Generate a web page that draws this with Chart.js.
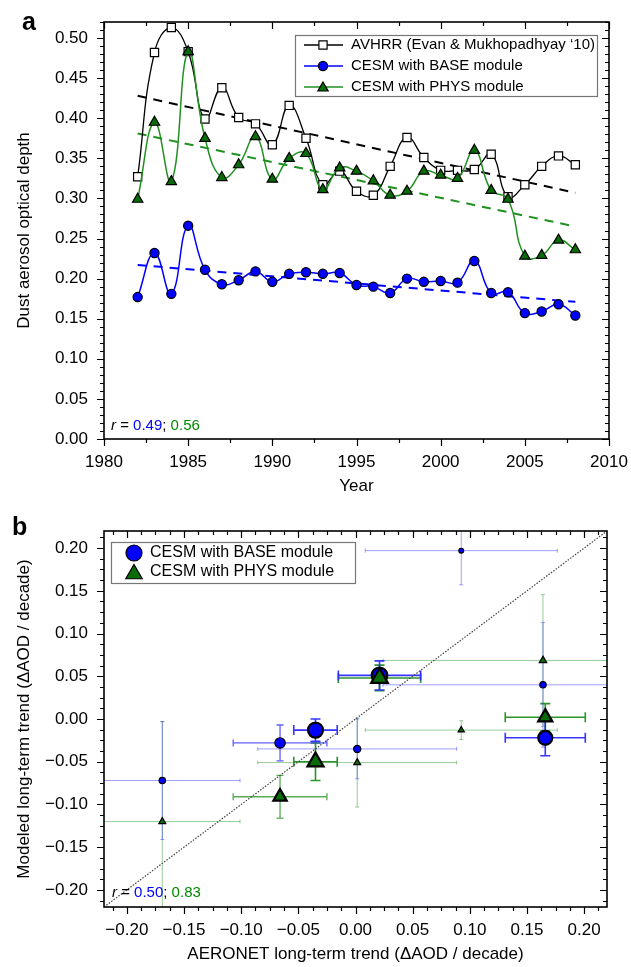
<!DOCTYPE html>
<html>
<head>
<meta charset="utf-8">
<script src="https://cdn.jsdelivr.net/npm/chart.js@4.4.0/dist/chart.umd.min.js"></script>
<style>
  html, body { margin: 0; padding: 0; background: #fff; }
  #wrap { position: relative; width: 631px; height: 967px; }
  canvas { position: absolute; left: 0; }
  .panel { position: absolute; font: bold 25px 'Liberation Sans', Arial, sans-serif; line-height: 1; }
</style>
</head>
<body>
<div id="wrap">
  <canvas id="seriesChart" width="631" height="500" style="top:0"></canvas>
  <canvas id="trendChart" width="631" height="467" style="top:500px"></canvas>
  <div class="panel" style="left:22px; top:9px">a</div>
  <div class="panel" style="left:12px; top:514px">b</div>
</div>
<script>
// panel a: yearly dust AOD
const years = [1982, 1983, 1984, 1985, 1986, 1987, 1988, 1989, 1990, 1991, 1992, 1993, 1994, 1995,
  1996, 1997, 1998, 1999, 2000, 2001, 2002, 2003, 2004, 2005, 2006, 2007, 2008];
const avhrrAod = [0.327, 0.482, 0.513, 0.483, 0.399, 0.438, 0.401, 0.393, 0.367, 0.416, 0.375, 0.317, 0.334, 0.309,
  0.304, 0.340, 0.376, 0.351, 0.335, 0.335, 0.336, 0.355, 0.302, 0.317, 0.340, 0.353, 0.342];
const baseAod = [0.177, 0.232, 0.181, 0.266, 0.211, 0.193, 0.198, 0.209, 0.196, 0.206, 0.208, 0.206, 0.207, 0.192,
  0.190, 0.182, 0.200, 0.196, 0.197, 0.195, 0.222, 0.182, 0.183, 0.157, 0.159, 0.168, 0.154];
const physAod = [0.299, 0.395, 0.321, 0.483, 0.375, 0.326, 0.342, 0.377, 0.324, 0.350, 0.356, 0.311, 0.338, 0.334,
  0.322, 0.304, 0.309, 0.334, 0.329, 0.325, 0.360, 0.310, 0.299, 0.228, 0.229, 0.248, 0.236];
const trendYears = [1982, 2008];
const avhrrFit = [0.428, 0.307];
const baseFit = [0.217, 0.171];
const physFit = [0.381, 0.265];
const corrA = ['0.49', '0.56'];

// panel b: long-term trends at AERONET sites
const obsTrend = [-0.169, -0.066, -0.035, 0.0015, 0.021, 0.0925, 0.164, 0.166];
const obsTrendErr = [0.068, 0.041, 0.019, 0.087, 0.036, 0.084, 0.140, 0.035];
const baseTrend = [-0.072, -0.028, -0.013, -0.035, 0.051, 0.197, 0.040, -0.022];
const baseTrendErr = [0.069, 0.021, 0.013, 0.035, 0.017, 0.040, 0.073, 0.021];
const physTrend = [-0.120, -0.091, -0.050, -0.051, 0.048, -0.013, 0.0685, 0.002];
const physTrendErr = [0.117, 0.025, 0.022, 0.052, 0.015, 0.011, 0.077, 0.016];
const oneToOne = [-0.22, 0.22];
const corrB = ['0.50', '0.83'];

// marker sizes per site (styling only)
const circleRadius = [3.2, 5.2, 7.5, 3.6, 7.8, 2.4, 3.2, 7];
const triangleRadius = [4, 7.7, 9.3, 4, 9.6, 3.6, 4.3, 8.2];

const FONT = "'Liberation Sans', Arial, Helvetica, sans-serif";
const BLUE = '#0000ff';
const GREEN_LINE = '#209020';
const GREEN_FILL = '#086c08';
const GREEN_TEXT = '#008a00';

const pts = (xs, ys) => xs.map((v, i) => ({x: v, y: ys[i]}));
const fmt = v => (Math.abs(v) < 1e-9 ? '0.00' : v.toFixed(2).replace('-', '\u2212'));

// frame with ticks on all four sides: outside on left/bottom, inside on top/right
const boxTicks = {
  id: 'boxTicks',
  afterDraw(chart, args, opts) {
    const {ctx, chartArea: a, scales: {x, y}} = chart;
    ctx.save();
    ctx.strokeStyle = '#000';
    ctx.lineWidth = 1.2;
    ctx.beginPath();
    const range = (min, max, step) => {
      const ks = [];
      for (let k = Math.ceil(min / step - 1e-9); k * step <= max + 1e-9; k++) ks.push(k);
      return ks;
    };
    range(x.min, x.max, opts.xStep).forEach(k => {
      const px = Math.round(x.getPixelForValue(k * opts.xStep)) + 0.5;
      const len = k % opts.xMajor === 0 ? 7 : 4;
      ctx.moveTo(px, a.bottom); ctx.lineTo(px, a.bottom + len);
      ctx.moveTo(px, a.top); ctx.lineTo(px, a.top + len);
    });
    range(y.min, y.max, opts.yStep).forEach(k => {
      const py = Math.round(y.getPixelForValue(k * opts.yStep)) + 0.5;
      const len = k % opts.yMajor === 0 ? 7 : 4;
      ctx.moveTo(a.left, py); ctx.lineTo(a.left - len, py);
      ctx.moveTo(a.right, py); ctx.lineTo(a.right - len, py);
    });
    ctx.stroke();
    ctx.lineWidth = 1.6;
    ctx.strokeRect(a.left, a.top, a.right - a.left, a.bottom - a.top);
    ctx.restore();
  }
};

// "r = a; b" note in the lower left corner
function drawCorr(ctx, x, y, vals) {
  const parts = [
    ['italic 15px ' + FONT, '#000', 'r'],
    ['15px ' + FONT, '#000', ' = '],
    ['15px ' + FONT, BLUE, vals[0]],
    ['15px ' + FONT, '#000', '; '],
    ['15px ' + FONT, GREEN_TEXT, vals[1]]
  ];
  ctx.textBaseline = 'middle';
  ctx.textAlign = 'left';
  parts.forEach(([font, color, text]) => {
    ctx.font = font;
    ctx.fillStyle = color;
    ctx.fillText(text, x, y);
    x += ctx.measureText(text).width;
  });
}

const legendA = {
  id: 'legendA',
  afterDraw(chart) {
    const {ctx, chartArea: a} = chart;
    ctx.save();
    ctx.fillStyle = '#fff';
    ctx.fillRect(295, 35, 303, 62);
    ctx.strokeStyle = '#777';
    ctx.lineWidth = 1.2;
    ctx.strokeRect(295.5, 35.5, 302, 61);
    const rows = [
      ['AVHRR (Evan & Mukhopadhyay \u201810)', '#000', '#fff', 'rect', 5.8],
      ['CESM with BASE module', BLUE, BLUE, 'circle', 4.6],
      ['CESM with PHYS module', GREEN_LINE, GREEN_FILL, 'triangle', 6]
    ];
    rows.forEach(([label, line, fill, style, r], i) => {
      const yy = 45 + i * 21;
      ctx.strokeStyle = line;
      ctx.lineWidth = 1.3;
      ctx.beginPath(); ctx.moveTo(304, yy); ctx.lineTo(343, yy); ctx.stroke();
      ctx.fillStyle = fill;
      ctx.strokeStyle = '#000';
      ctx.lineWidth = 1.2;
      Chart.helpers.drawPoint(ctx, {pointStyle: style, radius: r, borderWidth: 1.2, rotation: 0}, 323, yy + (style === 'triangle' ? 1 : 0));
      ctx.fillStyle = '#000';
      ctx.font = '15px ' + FONT;
      ctx.textBaseline = 'middle';
      ctx.fillText(label, 351, yy);
    });
    drawCorr(ctx, a.left + 7, 426, corrA);
    ctx.restore();
  }
};

const legendB = {
  id: 'legendB',
  afterDraw(chart) {
    const {ctx, chartArea: a} = chart;
    ctx.save();
    ctx.fillStyle = '#fff';
    ctx.fillRect(111, 42, 245, 41);
    ctx.strokeStyle = '#777';
    ctx.lineWidth = 1.2;
    ctx.strokeRect(111.5, 42.5, 244, 41);
    const rows = [
      ['CESM with BASE module', BLUE, 'circle', 8],
      ['CESM with PHYS module', GREEN_FILL, 'triangle', 9.5]
    ];
    rows.forEach(([label, fill, style, r], i) => {
      const yy = 53 + i * 19;
      ctx.fillStyle = fill;
      ctx.strokeStyle = '#000';
      Chart.helpers.drawPoint(ctx, {pointStyle: style, radius: r, borderWidth: 2.2, rotation: 0}, 134, yy + (style === 'triangle' ? 2 : 0));
      ctx.fillStyle = '#000';
      ctx.font = '16px ' + FONT;
      ctx.textBaseline = 'middle';
      ctx.fillText(label, 150, yy);
    });
    drawCorr(ctx, a.left + 8, 393, corrB);
    ctx.restore();
  }
};

const errorBars = {
  id: 'errorBars',
  beforeDatasetsDraw(chart) {
    const {ctx, chartArea: a, scales: {x, y}} = chart;
    ctx.save();
    ctx.beginPath();
    ctx.rect(a.left, a.top, a.right - a.left, a.bottom - a.top);
    ctx.clip();
    chart.data.datasets.forEach(ds => {
      if (!ds.xErr) return;
      ds.data.forEach((p, i) => {
        const w = ds.siteWeight[i];
        const big = w >= 6, mid = w >= 4.5;
        ctx.strokeStyle = ds.errColor;
        ctx.globalAlpha = big ? 0.95 : mid ? 0.75 : 0.45;
        ctx.lineWidth = big ? 1.6 : mid ? 1.3 : 1;
        const cap = big ? 5 : mid ? 3.5 : 2;
        const px = x.getPixelForValue(p.x), py = y.getPixelForValue(p.y);
        const x0 = x.getPixelForValue(p.x - ds.xErr[i]), x1 = x.getPixelForValue(p.x + ds.xErr[i]);
        const y0 = y.getPixelForValue(p.y - ds.yErr[i]), y1 = y.getPixelForValue(p.y + ds.yErr[i]);
        ctx.beginPath();
        ctx.moveTo(x0, py); ctx.lineTo(x1, py);
        ctx.moveTo(px, y0); ctx.lineTo(px, y1);
        ctx.moveTo(x0, py - cap); ctx.lineTo(x0, py + cap);
        ctx.moveTo(x1, py - cap); ctx.lineTo(x1, py + cap);
        ctx.moveTo(px - cap, y0); ctx.lineTo(px + cap, y0);
        ctx.moveTo(px - cap, y1); ctx.lineTo(px + cap, y1);
        ctx.stroke();
      });
    });
    ctx.restore();
  }
};

const tickFont = {family: FONT, size: 17};
const titleFont = {family: FONT, size: 17};
// fixed axis boxes so both panels share the same plot frame
const fitX = s => { s.height = 58; s.paddingLeft = 0; s.paddingRight = 0; };
const fitY = s => { s.width = 90; s.paddingTop = 0; s.paddingBottom = 0; };

new Chart(document.getElementById('seriesChart'), {
  type: 'line',
  data: {
    datasets: [
      {
        data: pts(years, physAod), borderColor: GREEN_LINE, borderWidth: 1.5, tension: 0.45,
        pointStyle: 'triangle', pointRadius: 6, pointBackgroundColor: GREEN_FILL,
        pointBorderColor: '#000', pointBorderWidth: 1.2
      },
      {
        data: pts(years, avhrrAod), borderColor: '#000', borderWidth: 1.3, tension: 0.45,
        pointStyle: 'rect', pointRadius: 5.8, pointBackgroundColor: '#fff',
        pointBorderColor: '#000', pointBorderWidth: 1.2
      },
      {
        data: pts(years, baseAod), borderColor: BLUE, borderWidth: 1.5, tension: 0.45,
        pointStyle: 'circle', pointRadius: 4.6, pointBackgroundColor: BLUE,
        pointBorderColor: '#000', pointBorderWidth: 1.2
      },
      {data: pts(trendYears, avhrrFit), borderColor: '#000', borderWidth: 2, borderDash: [9, 7], pointRadius: 0},
      {data: pts(trendYears, physFit), borderColor: GREEN_LINE, borderWidth: 2, borderDash: [9, 7], pointRadius: 0},
      {data: pts(trendYears, baseFit), borderColor: BLUE, borderWidth: 2, borderDash: [9, 7], pointRadius: 0}
    ]
  },
  options: {
    responsive: false,
    animation: false,
    events: [],
    layout: {padding: {left: 14, right: 22, top: 22, bottom: 3}},
    plugins: {
      legend: {display: false},
      tooltip: {enabled: false},
      boxTicks: {xStep: 2.5, xMajor: 2, yStep: 0.01, yMajor: 5}
    },
    scales: {
      x: {
        type: 'linear', min: 1980, max: 2010,
        grid: {display: false, drawTicks: false}, border: {display: false},
        ticks: {stepSize: 5, includeBounds: false, font: tickFont, color: '#000', padding: 13, maxRotation: 0,
          callback: v => String(v)},
        title: {display: true, text: 'Year', font: titleFont, color: '#000', padding: 0},
        afterFit: fitX
      },
      y: {
        min: 0, max: 0.52,
        grid: {display: false, drawTicks: false}, border: {display: false},
        ticks: {stepSize: 0.05, includeBounds: false, font: tickFont, color: '#000', padding: 16, callback: fmt},
        title: {display: true, text: 'Dust aerosol optical depth', font: titleFont, color: '#000', padding: 0},
        afterFit: fitY
      }
    }
  },
  plugins: [boxTicks, legendA]
});

new Chart(document.getElementById('trendChart'), {
  type: 'scatter',
  data: {
    datasets: [
      {
        data: pts(obsTrend, physTrend), xErr: obsTrendErr, yErr: physTrendErr, errColor: '#1f8f1f',
        siteWeight: circleRadius,
        pointStyle: 'triangle', pointRadius: triangleRadius, backgroundColor: GREEN_FILL,
        borderColor: '#000', borderWidth: triangleRadius.map(r => (r > 6 ? 2.2 : 1.2))
      },
      {
        data: pts(obsTrend, baseTrend), xErr: obsTrendErr, yErr: baseTrendErr, errColor: '#2a2aff',
        siteWeight: circleRadius,
        pointStyle: 'circle', pointRadius: circleRadius, backgroundColor: BLUE,
        borderColor: '#000', borderWidth: circleRadius.map(r => (r > 6 ? 2.2 : 1.2))
      },
      {
        type: 'line', data: pts(oneToOne, oneToOne), borderColor: '#444', borderWidth: 1.2,
        borderDash: [1.5, 1.5], pointRadius: 0
      }
    ]
  },
  options: {
    responsive: false,
    animation: false,
    events: [],
    layout: {padding: {left: 14, right: 24, top: 31, bottom: 2}},
    plugins: {
      legend: {display: false},
      tooltip: {enabled: false},
      boxTicks: {xStep: 0.0125, xMajor: 4, yStep: 0.0125, yMajor: 4}
    },
    scales: {
      x: {
        type: 'linear', min: -0.22, max: 0.22,
        grid: {display: false, drawTicks: false}, border: {display: false},
        ticks: {stepSize: 0.05, includeBounds: false, font: tickFont, color: '#000', padding: 13, maxRotation: 0,
          callback: fmt},
        title: {display: true, text: 'AERONET long-term trend (\u0394AOD / decade)', font: titleFont, color: '#000', padding: 0},
        afterFit: fitX
      },
      y: {
        min: -0.22, max: 0.22,
        grid: {display: false, drawTicks: false}, border: {display: false},
        ticks: {stepSize: 0.05, includeBounds: false, font: tickFont, color: '#000', padding: 16, callback: fmt},
        title: {display: true, text: 'Modeled long-term trend (\u0394AOD / decade)', font: titleFont, color: '#000', padding: 0},
        afterFit: fitY
      }
    }
  },
  plugins: [errorBars, boxTicks, legendB]
});
</script>
</body>
</html>
